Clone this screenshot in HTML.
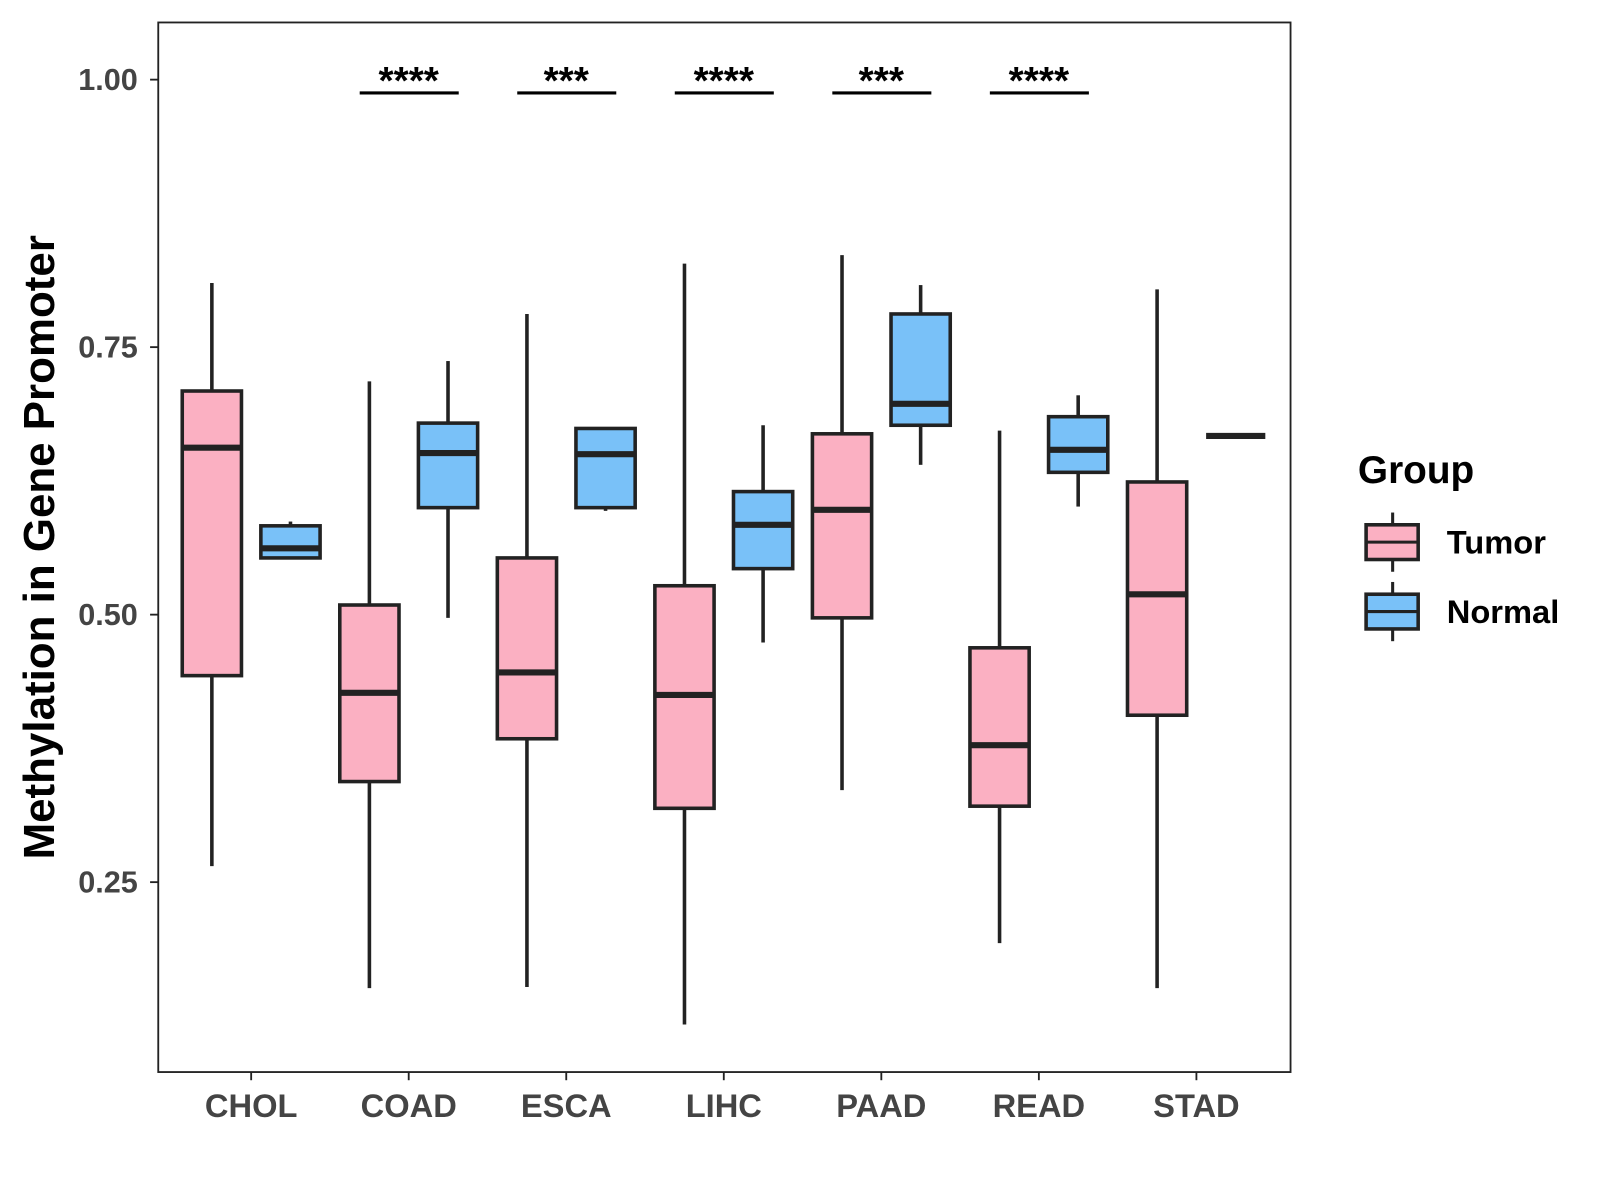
<!DOCTYPE html>
<html><head><meta charset="utf-8"><style>
html,body{margin:0;padding:0;background:#fff;}
svg{display:block;font-family:"Liberation Sans",Arial,sans-serif;}
</style></head><body>
<svg id="chart" width="1600" height="1200" viewBox="0 0 1600 1200" xmlns="http://www.w3.org/2000/svg">
<rect x="0" y="0" width="1600" height="1200" fill="#fff"/>
<g id="root" transform="scale(1.021)">
<rect x="155" y="22" width="1109" height="1028" fill="#fff" stroke="#222" stroke-width="1.8"/>
<g id="marks"></g>
<text transform="translate(53,536) rotate(-90)" text-anchor="middle" font-size="43" font-weight="bold" fill="#000">Methylation in Gene Promoter</text>
<text x="1330" y="473" font-size="38" font-weight="bold" fill="#000">Group</text>
<g id="legend"></g>
</g>
</svg>
<script>
const categories = ["CHOL","COAD","ESCA","LIHC","PAAD","READ","STAD"];
// [min, q1, median, q3, max]
const tumorStats = [
 [0.265,0.443,0.656,0.709,0.810],
 [0.151,0.344,0.427,0.509,0.718],
 [0.152,0.384,0.446,0.553,0.781],
 [0.117,0.319,0.425,0.527,0.828],
 [0.336,0.497,0.598,0.669,0.836],
 [0.193,0.321,0.378,0.469,0.672],
 [0.151,0.406,0.519,0.624,0.804]
];
const normalStats = [
 [0.553,0.553,0.562,0.583,0.587],
 [0.497,0.600,0.651,0.679,0.737],
 [0.597,0.600,0.650,0.674,0.674],
 [0.474,0.543,0.584,0.615,0.677],
 [0.640,0.677,0.697,0.781,0.808],
 [0.601,0.633,0.654,0.685,0.705],
 [0.667,0.667,0.667,0.667,0.667]
];
const significance = ["","****","***","****","***","****",""];
const yTicks = [0.25,0.50,0.75,1.00];
const yTickLabels = ["0.25","0.50","0.75","1.00"];
const groups = ["Tumor","Normal"];
const colors = {Tumor:"#FBB0C2", Normal:"#79C1F8"};

const NS="http://www.w3.org/2000/svg";
const g=document.getElementById('marks');
const leg=document.getElementById('legend');
function y(v){return 78+(1-v)*1048;}
function x(i){return 246+i*154.3;}
function mk(tag,attrs,parent){const e=document.createElementNS(NS,tag);for(const k in attrs)e.setAttribute(k,attrs[k]);(parent||g).appendChild(e);return e;}
const dk="#222";
yTicks.forEach((t,i)=>{
 const l=mk('line',{x1:147,x2:155,y1:y(t),y2:y(t),stroke:dk,'stroke-width':1.8});
 
 
 const tx=mk('text',{x:135,y:y(t)+10,'text-anchor':'end','font-size':30,'font-weight':'bold',fill:'#444'});
 tx.textContent=yTickLabels[i];
 
 
});
function box(cx,s,col,name){
 const w=58,hw=w/2;
 const grp=mk('g',{});
 
 
 if(s[0]===s[4]){
  mk('line',{x1:cx-hw,x2:cx+hw,y1:y(s[2]),y2:y(s[2]),stroke:dk,'stroke-width':6},grp);return;
 }
 mk('line',{x1:cx,x2:cx,y1:y(s[4]),y2:y(s[3]),stroke:dk,'stroke-width':3.5},grp);
 mk('line',{x1:cx,x2:cx,y1:y(s[1]),y2:y(s[0]),stroke:dk,'stroke-width':3.5},grp);
 mk('rect',{x:cx-hw,y:y(s[3]),width:w,height:Math.max(0.5,y(s[1])-y(s[3])),fill:col,stroke:dk,'stroke-width':3.5},grp);
 mk('line',{x1:cx-hw,x2:cx+hw,y1:y(s[2]),y2:y(s[2]),stroke:dk,'stroke-width':6},grp);
}
categories.forEach((c,i)=>{
 const cx=x(i);
 box(cx-38.5,tumorStats[i],colors.Tumor,'box-tumor-'+c.toLowerCase());
 box(cx+38.5,normalStats[i],colors.Normal,'box-normal-'+c.toLowerCase());
 const tk=mk('line',{x1:cx,x2:cx,y1:1050,y2:1058,stroke:dk,'stroke-width':1.8});
 
 
 const tl=mk('text',{x:cx,y:1094,'text-anchor':'middle','font-size':32,'font-weight':'bold',fill:'#444'});
 tl.textContent=c;
 
 
 if(significance[i]){
  const b=mk('line',{x1:cx-48,x2:cx+49,y1:91,y2:91,stroke:'#000','stroke-width':3});
  
  
  const st=mk('text',{x:cx,y:92,'text-anchor':'middle','font-size':38,'font-weight':'bold',fill:'#000'});
  st.textContent=significance[i];
  
  
 }
});
groups.forEach((gname,i)=>{
 const ky=531+i*68;
 const lg=mk('g',{},leg);
 
 
 mk('line',{x1:1364,x2:1364,y1:ky-29,y2:ky+29,stroke:dk,'stroke-width':3},lg);
 mk('rect',{x:1338,y:ky-17,width:51,height:34,fill:colors[gname],stroke:dk,'stroke-width':3.5},lg);
 mk('line',{x1:1338,x2:1389,y1:ky,y2:ky,stroke:dk,'stroke-width':3},lg);
 const t=mk('text',{x:1417,y:ky+11,'font-size':32,'font-weight':'bold',fill:'#000'},lg);
 t.textContent=gname;
});
</script>
</body></html>
